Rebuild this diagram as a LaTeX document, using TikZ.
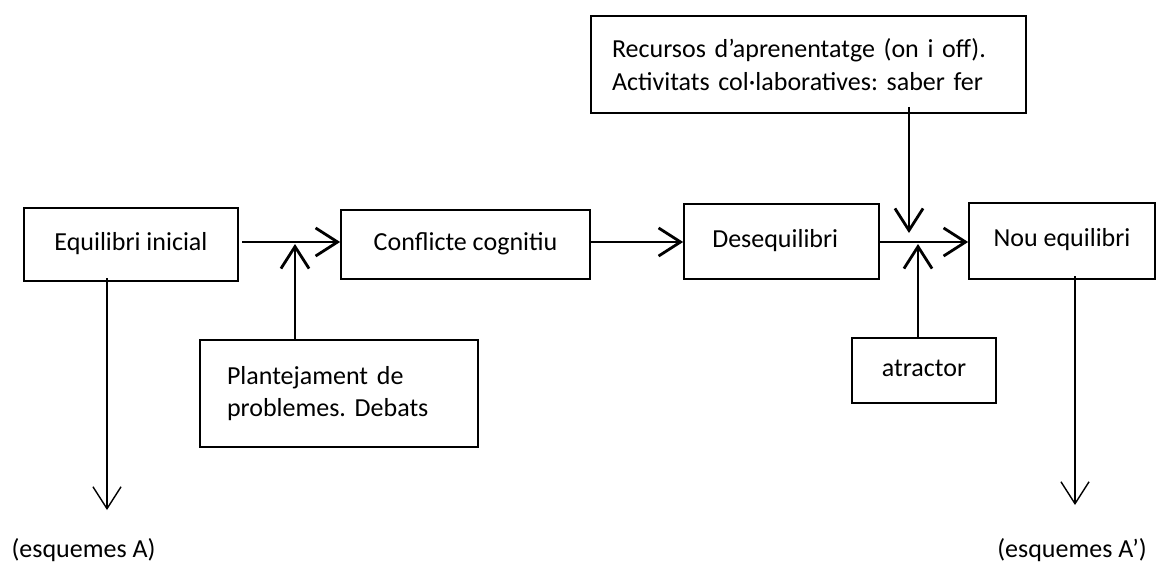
\documentclass[tikz,border=0pt]{standalone}
\usepackage{fontspec}
\setmainfont{Carlito}
\frenchspacing
\usetikzlibrary{arrows.meta}
\begin{document}
\begin{tikzpicture}[x=0.02cm,y=-0.02cm,
  font=\fontsize{14.8}{18.7}\selectfont,
  box/.style={draw, line width=1pt, inner sep=0pt},
  onebox/.style={box, text height=0.85em, text depth=0.2em},
  vhead/.style={-{Straight Barb[length=12.5pt,width=16pt]}},
  mainarrow/.style={vhead, line width=1.6pt},
  thinarrow/.style={vhead, line width=0.8pt}]
\useasboundingbox (0,0) rectangle (1157,565);
\node[onebox, minimum width=4.28cm, minimum height=1.46cm] (eq) at (131,244.5) {Equilibri inicial};
\node[onebox, minimum width=4.98cm, minimum height=1.38cm] (conf) at (465.5,244.5) {Conflicte cognitiu};
\node[onebox, minimum width=3.90cm, minimum height=1.50cm] (deseq) at (781.5,241.5) {\hspace*{-0.25cm}Desequilibri};
\node[onebox, minimum width=3.72cm, minimum height=1.52cm] (nou) at (1062,241) {Nou equilibri};
\node[box, minimum height=1.94cm, text width=7.86cm, inner xsep=0.42cm, align=left] (rec) at (808.5,64.5)
  {Recursos d’aprenentatge (on i off).\\Activitats col·laboratives: saber fer};
\node[box, minimum height=2.14cm, text width=4.48cm, inner xsep=0.54cm, align=left] (plan) at (339,393.5)
  {Plantejament de\\problemes. Debats};
\node[onebox, minimum width=2.88cm, minimum height=1.30cm] (atr) at (924,370.5) {atractor};
\node[text height=0.85em, text depth=0.2em] (lA) at (83.5,552) {(esquemes A)};
\node[text height=0.85em, text depth=0.2em] (lB) at (1072,552) {(esquemes A’)};
\coordinate (j1) at (295,244);
\coordinate (j2) at (909,233);
\coordinate (j3) at (918,244);
\coordinate (dA) at (107,510);
\coordinate (dB) at (1075,505);
\draw[mainarrow] ([xshift=2]eq.east |- 0,242) -- (conf.west |- 0,242);
\draw[mainarrow] (conf.east |- 0,242) -- (deseq.west |- 0,242);
\draw[mainarrow] (deseq.east |- 0,242) -- (nou.west |- 0,242);
\draw[mainarrow] (j1 |- plan.north) -- (j1);
\draw[mainarrow] ([yshift=4]j2 |- rec.south) -- (j2);
\draw[mainarrow] (j3 |- atr.north) -- (j3);
\draw[thinarrow] ([yshift=2]dA |- eq.south) -- (dA);
\draw[thinarrow] ([yshift=2]dB |- nou.south) -- (dB);
\end{tikzpicture}
\end{document}
